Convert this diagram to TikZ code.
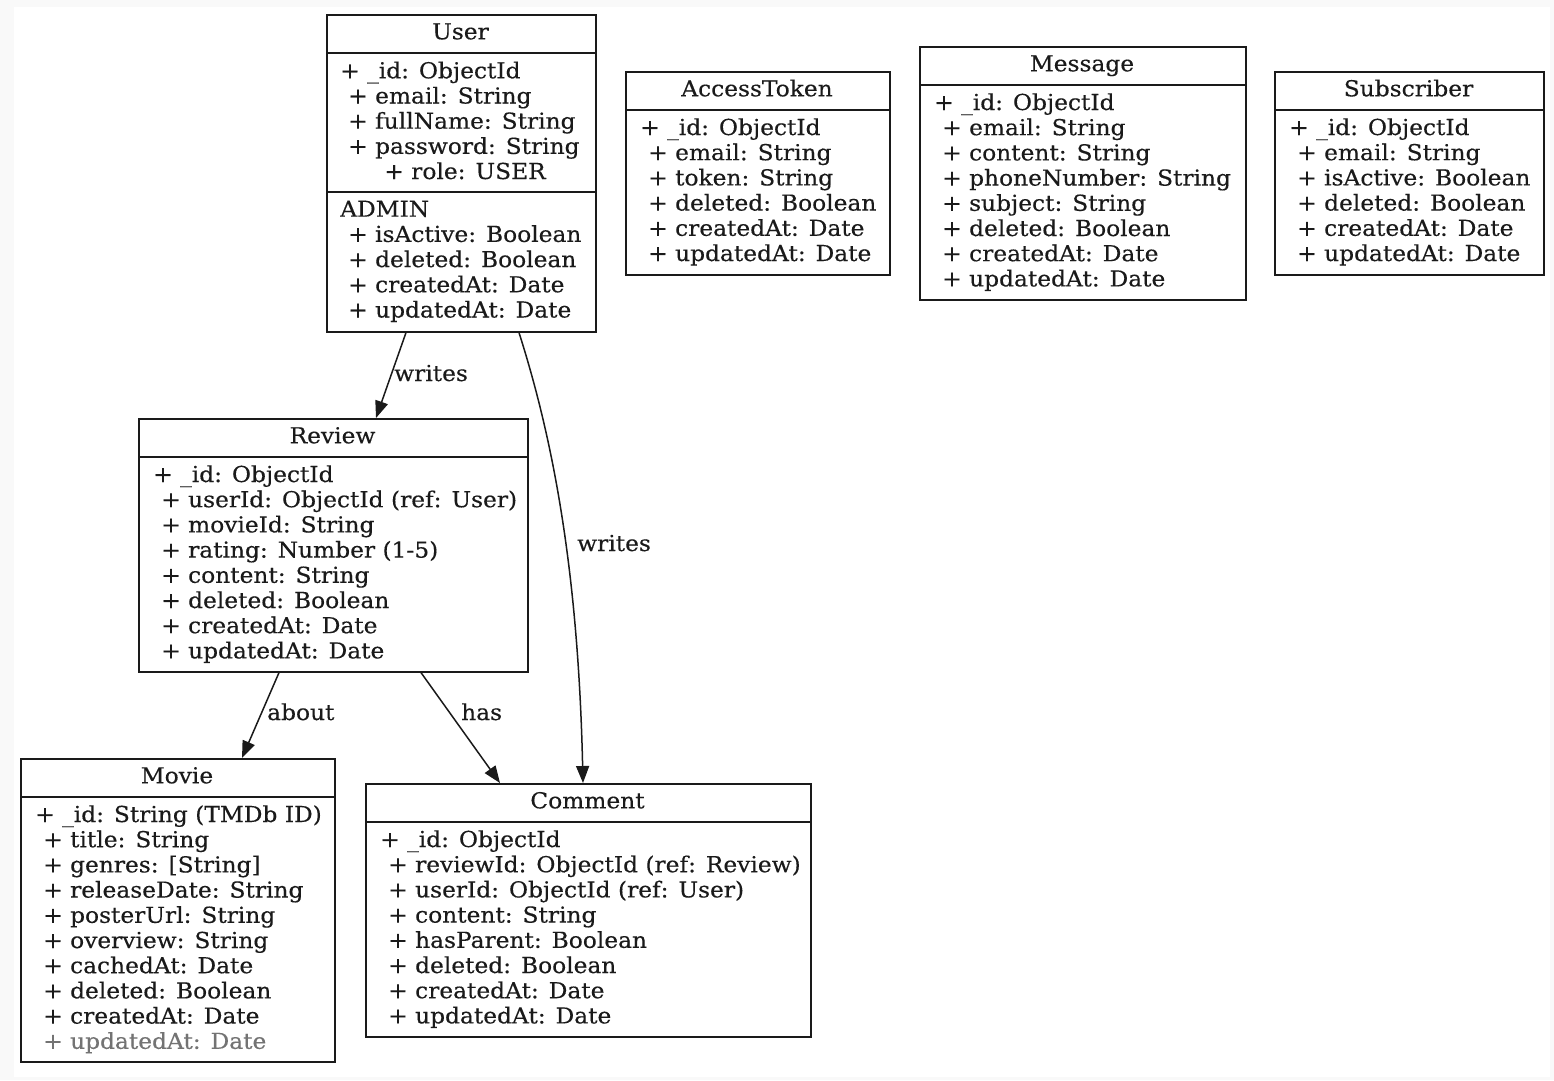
\documentclass[tikz,border=0pt]{standalone}
\usepackage{fontspec}
\setmainfont{DejaVu Serif}[FakeStretch=1.06,FakeBold=0.3]
\usetikzlibrary{arrows.meta}
\definecolor{bgc}{HTML}{F9F9F9}
\definecolor{ink}{HTML}{1A1A1A}
\newcommand\fs{\fontsize{22pt}{26.4pt}\selectfont}
\tikzset{
  box/.style={draw=ink, line width=1.6pt, fill=white, rectangle, inner sep=0pt, anchor=north west},
  divline/.style={draw=ink, line width=1.6pt},
  row/.style={anchor=base west, inner sep=0pt, font=\fs, text=ink},
  title/.style={anchor=base, inner sep=0pt, font=\fs, text=ink},
  lbl/.style={anchor=base west, inner sep=0pt, font=\fs, text=ink},
  arr/.style={-{Triangle[length=17pt,width=13pt]}, line width=1.5pt, draw=ink}
}
\newcommand\classrows[4]{%
  \foreach \t [count=\i] in {#4}{%
    \pgfmathsetmacro\yy{#3+25.2*(\i-1)}%
    \ifnum\i=1
      \node[row] (#1-\i) at (#2,\yy) {\t};
    \else
      \node[row] (#1-\i) at (#2+8,\yy) {\t};
    \fi
  }%
}
\begin{document}
\begin{tikzpicture}[x=1pt,y=-1pt]
\useasboundingbox (0,0) rectangle (1554,1080);
\fill[bgc] (0,0) rectangle (1554,1080);
\fill[white] (14,7) rectangle (1550,1077);

% ---------- User
\node[box, minimum width=269pt, minimum height=317pt] (user) at (326,14) {};
\draw[divline] ([yshift=-39pt]user.north west) -- ([yshift=-39pt]user.north east);
\draw[divline] ([yshift=-178pt]user.north west) -- ([yshift=-178pt]user.north east);
\node[title] (user-t) at (460.5,39.3) {User};
\classrows{useru}{340}{78.3}{{+ \_id: ObjectId},{+ email: String},{+ fullName: String},{+ password: String}}
\node[title] (user-role) at (465,179) {+ role: USER};
\classrows{userl}{340}{216.7}{{ADMIN},{+ isActive: Boolean},{+ deleted: Boolean},{+ createdAt: Date},{+ updatedAt: Date}}

% ---------- AccessToken
\node[box, minimum width=264pt, minimum height=203pt] (token) at (625,71) {};
\draw[divline] ([yshift=-39pt]token.north west) -- ([yshift=-39pt]token.north east);
\node[title] (token-t) at (757,96.3) {AccessToken};
\classrows{tok}{640}{135}{{+ \_id: ObjectId},{+ email: String},{+ token: String},{+ deleted: Boolean},{+ createdAt: Date},{+ updatedAt: Date}}

% ---------- Message
\node[box, minimum width=326pt, minimum height=253pt] (message) at (919,46) {};
\draw[divline] ([yshift=-39pt]message.north west) -- ([yshift=-39pt]message.north east);
\node[title] (message-t) at (1082,71.3) {Message};
\classrows{msg}{934}{110}{{+ \_id: ObjectId},{+ email: String},{+ content: String},{+ phoneNumber: String},{+ subject: String},{+ deleted: Boolean},{+ createdAt: Date},{+ updatedAt: Date}}

% ---------- Subscriber
\node[box, minimum width=269pt, minimum height=203pt] (subscriber) at (1274,71) {};
\draw[divline] ([yshift=-39pt]subscriber.north west) -- ([yshift=-39pt]subscriber.north east);
\node[title] (subscriber-t) at (1408.5,96.3) {Subscriber};
\classrows{sub}{1289}{135}{{+ \_id: ObjectId},{+ email: String},{+ isActive: Boolean},{+ deleted: Boolean},{+ createdAt: Date},{+ updatedAt: Date}}

% ---------- Review
\node[box, minimum width=389pt, minimum height=253pt] (review) at (138,418) {};
\draw[divline] ([yshift=-39pt]review.north west) -- ([yshift=-39pt]review.north east);
\node[title] (review-t) at (332.5,443.3) {Review};
\classrows{rev}{153}{482}{{+ \_id: ObjectId},{+ userId: ObjectId (ref: User)},{+ movieId: String},{+ rating: Number (1-5)},{+ content: String},{+ deleted: Boolean},{+ createdAt: Date},{+ updatedAt: Date}}

% ---------- Movie
\node[box, minimum width=314pt, minimum height=303pt] (movie) at (20,758) {};
\draw[divline] ([yshift=-39pt]movie.north west) -- ([yshift=-39pt]movie.north east);
\node[title] (movie-t) at (177,783.3) {Movie};
\classrows{mov}{35}{822}{{+ \_id: String (TMDb ID)},{+ title: String},{+ genres: [String]},{+ releaseDate: String},{+ posterUrl: String},{+ overview: String},{+ cachedAt: Date},{+ deleted: Boolean},{+ createdAt: Date},{\textcolor{black!55}{+ updatedAt: Date}}}

% ---------- Comment
\node[box, minimum width=445pt, minimum height=253pt] (comment) at (365,783) {};
\draw[divline] ([yshift=-39pt]comment.north west) -- ([yshift=-39pt]comment.north east);
\node[title] (comment-t) at (587.5,808.3) {Comment};
\classrows{com}{380}{847}{{+ \_id: ObjectId},{+ reviewId: ObjectId (ref: Review)},{+ userId: ObjectId (ref: User)},{+ content: String},{+ hasParent: Boolean},{+ deleted: Boolean},{+ createdAt: Date},{+ updatedAt: Date}}

% ---------- Connectors
\draw[arr] ([xshift=80pt]user.south west) -- ([xshift=238pt]review.north west);
\node[lbl] (l-writes1) at (394,381) {writes};
\draw[arr] ([xshift=193pt]user.south west) .. controls (550,430) and (578,560) .. ([xshift=218pt]comment.north west);
\node[lbl] (l-writes2) at (577,551) {writes};
\draw[arr] ([xshift=141pt]review.south west) -- ([xshift=222pt]movie.north west);
\node[lbl] (l-about) at (267,720) {about};
\draw[arr] ([xshift=283pt]review.south west) -- ([xshift=135pt]comment.north west);
\node[lbl] (l-has) at (461,720) {has};
\end{tikzpicture}
\end{document}
